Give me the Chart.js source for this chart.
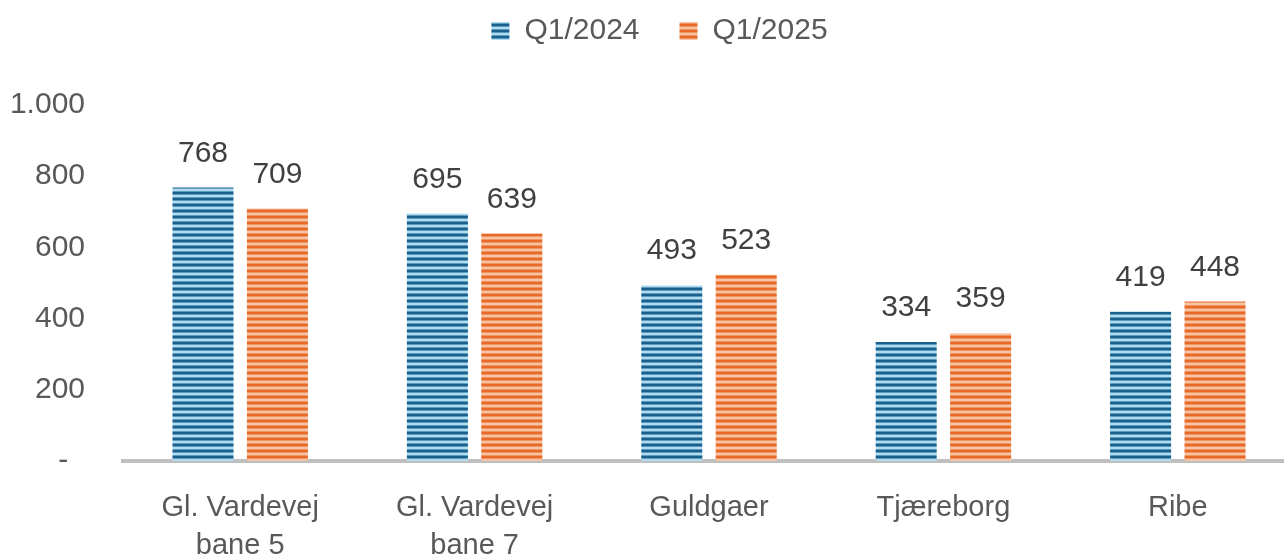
<!DOCTYPE html>
<html>
<head>
<meta charset="utf-8">
<script src="https://cdn.jsdelivr.net/npm/chart.js@4"></script>
<style>
  html, body { margin: 0; padding: 0; background: #ffffff; overflow: hidden; }
  #wrap { position: relative; width: 1295px; height: 575px; }
</style>
</head>
<body>
<div id="wrap"><canvas id="c"></canvas></div>
<script>
const categories = [["Gl. Vardevej", "bane 5"], ["Gl. Vardevej", "bane 7"], "Guldgaer", "Tjæreborg", "Ribe"];
const seriesNames = ["Q1/2024", "Q1/2025"];
const q1_2024 = [768, 695, 493, 334, 419];
const q1_2025 = [709, 639, 523, 359, 448];
const yTicks = [0, 200, 400, 600, 800, 1000];

function stripePattern(dark, mid, light) {
  const c = document.createElement('canvas');
  c.width = 8; c.height = 6;
  const g = c.getContext('2d');
  const rows = [dark, dark, mid, light, light, mid];
  rows.forEach((col, i) => { g.fillStyle = col; g.fillRect(0, i, 8, 1); });
  return g.createPattern(c, 'repeat');
}
const ctx0 = document.getElementById('c').getContext('2d');
const bluePat = stripePattern('#1b5f8c', '#5a9cc0', '#b3dbee');
const orangePat = stripePattern('#e86a28', '#f09460', '#f8c2a4');

const FONT = "'Liberation Sans', Arial, sans-serif";

const dataLabels = {
  id: 'dataLabels',
  afterDatasetsDraw(chart) {
    const ctx = chart.ctx;
    ctx.save();
    ctx.font = "30px " + FONT;
    ctx.fillStyle = '#404040';
    ctx.textAlign = 'center';
    ctx.textBaseline = 'alphabetic';
    chart.data.datasets.forEach((ds, di) => {
      chart.getDatasetMeta(di).data.forEach((bar, i) => {
        ctx.fillText(String(ds.data[i]), bar.x, bar.y - 26);
      });
    });
    ctx.restore();
  }
};

const legendShift = {
  id: 'legendShift',
  afterLayout(chart) {
    const l = chart.legend;
    if (l) { l.left += 12; l.right += 12; l.top -= 49; l.bottom -= 49; }
  }
};

new Chart(ctx0, {
  type: 'bar',
  data: {
    labels: categories,
    datasets: [
      { label: seriesNames[0], data: q1_2024, backgroundColor: bluePat, borderWidth: 0 },
      { label: seriesNames[1], data: q1_2025, backgroundColor: orangePat, borderWidth: 0 }
    ]
  },
  plugins: [dataLabels, legendShift],
  options: {
    responsive: true,
    maintainAspectRatio: false,
    animation: false,
    layout: { padding: { top: 25, left: 0, right: 0, bottom: 0 } },
    datasets: { bar: { categoryPercentage: 0.635, barPercentage: 0.82 } },
    plugins: {
      legend: {
        position: 'top',
        labels: {
          font: { family: FONT, size: 30 },
          color: '#595959',
          boxWidth: 18, boxHeight: 18,
          padding: 40
        }
      },
      tooltip: { enabled: false }
    },
    scales: {
      x: {
        grid: { display: false, drawTicks: false },
        border: { display: true, color: '#bfbfbf', width: 4 },
        ticks: { font: { family: FONT, size: 29, lineHeight: 1.3 }, color: '#595959', padding: 28, maxRotation: 0, autoSkip: false },
        afterFit(s) { s.height = 114; }
      },
      y: {
        min: 0, max: 1000,
        afterBuildTicks(s) { s.ticks = yTicks.map(v => ({ value: v })); },
        grid: { display: false, drawTicks: false },
        border: { display: false },
        ticks: {
          font: { family: FONT, size: 30 }, color: '#595959', padding: 38,
          callback(v) { return v === 0 ? '-  ' : v.toLocaleString('de-DE'); }
        },
        afterFit(s) { s.width = 123; }
      }
    }
  }
});
</script>
</body>
</html>
